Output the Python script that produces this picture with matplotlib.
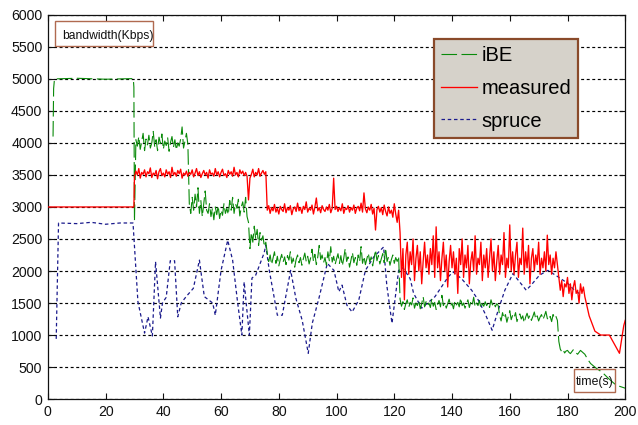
import numpy as np
import matplotlib
matplotlib.use("Agg")
import matplotlib.pyplot as plt
from matplotlib.patches import Rectangle

plt.rcParams['font.family'] = ['Liberation Sans', 'DejaVu Sans']

# ---------------- data (time in s, bandwidth in Kbps) ----------------
SAMPLE_STEP = 0.5

# iBE estimate
ibe_head_t = [1.8, 2.0, 2.3, 10.0, 20.0, 29.6, 29.8, 30.0]
ibe_head_v = [4100, 4850, 5000, 5010, 4995, 5005, 4870, 2780]

ibe_seg1_start = 30.5
ibe_seg1 = [4050, 3950, 4100, 3900, 4020, 4150, 3880, 4060, 3970, 4120,
            3920, 4000, 4180, 3940, 4050, 3880, 4090, 3990, 4140, 3900,
            4030, 3960, 4080, 3870, 4010, 4100, 3930, 4050, 3890, 4000,
            3950, 4060, 4250, 3920, 4030, 4150, 3980]
ibe_seg2_start = 49.0
ibe_seg2 = [3050, 2900, 3150, 2950, 3200, 3000, 3300, 2900, 3100, 2850,
            3050, 3250, 2950, 2900, 3050, 2850, 2980, 2800, 3000, 2880,
            3020, 2820, 2950, 2870, 3050, 2900, 2980, 2880, 3100, 2950,
            3150, 2900, 3050, 2980, 3120, 2860, 3000, 3080, 2920, 3150,
            2850, 2760]
ibe_seg3_start = 70.0
ibe_seg3 = [2350, 2600, 2450, 2700, 2500, 2650, 2400, 2600, 2480, 2550,
            2380, 2450]
ibe_seg4_start = 76.0
ibe_seg4 = [2280, 2150, 2250, 2100, 2200, 2300, 2120, 2230, 2080, 2180,
            2260, 2140, 2220, 2100, 2240, 2170, 2300, 2120, 2200, 2060,
            2180, 2250, 2130, 2210, 2090, 2190, 2280, 2150, 2230, 2110,
            2200, 2340, 2150, 2260, 2100, 2220, 2400, 2180, 2250, 2130,
            2210, 2090, 2300, 2160, 2380, 2140, 2230, 2100, 2190, 2270,
            2120, 2240, 2080, 2200, 2350, 2150, 2220, 2060, 2170, 2290,
            2130, 2210, 2090, 2250, 2150, 2380, 2120, 2230, 2100, 2190,
            2280, 2140, 2220, 2080, 2200, 2330, 2160, 2240, 2110, 2190,
            2270, 2130, 2360, 2150, 2220, 2090, 2180, 2250, 2120, 2210,
            2150, 2230]
ibe_seg5_start = 122.0
ibe_seg5 = [1560, 1450, 1520, 1400, 1490, 1550, 1430, 1510, 1470, 1580,
            1420, 1500, 1460, 1540, 1410, 1490, 1600, 1440, 1520, 1460,
            1500, 1430, 1570, 1450, 1510, 1400, 1480, 1540, 1440, 1620,
            1460, 1510, 1420, 1490, 1560, 1450, 1500, 1410, 1530, 1470,
            1510, 1440, 1580, 1460, 1500, 1420, 1490, 1550, 1430, 1520,
            1470, 1590, 1440, 1500, 1460, 1540, 1420, 1490, 1450, 1520,
            1460, 1500, 1430, 1550, 1470, 1510, 1440, 1490, 1460]
ibe_seg6_start = 156.5
ibe_seg6 = [1300, 1220, 1350, 1260, 1320, 1200, 1290, 1380, 1240, 1310,
            1270, 1350, 1210, 1290, 1330, 1250, 1300, 1190, 1280, 1340,
            1260, 1310, 1230, 1290, 1360, 1250, 1300, 1220, 1280, 1320,
            1240, 1300, 1370, 1260, 1230, 1290, 1210, 1320, 1260, 1290,
            1230]
ibe_seg7_start = 177.0
ibe_seg7 = [900, 780, 740, 770, 720, 750, 760, 730, 710, 740,
            770, 760, 720, 700, 730, 760, 740, 720, 700]
ibe_tail_t = [187.0, 188.0, 190.0, 192.0, 194.0, 196.0, 197.0, 198.0, 200.0]
ibe_tail_v = [620, 555, 480, 420, 330, 250, 215, 200, 170]

# measured bandwidth
meas_head_t = [0.0, 29.8]
meas_head_v = [3000, 3000]

meas_seg1_start = 30.0
meas_seg1 = [3480, 3560, 3500, 3600, 3450, 3540, 3510, 3580, 3470, 3550,
             3520, 3610, 3460, 3530, 3500, 3570, 3440, 3550, 3600, 3490,
             3530, 3470, 3580, 3510, 3550, 3460, 3620, 3500, 3540, 3480,
             3570, 3520, 3590, 3450, 3530, 3500, 3560, 3480, 3540, 3510,
             3580, 3470, 3530, 3600, 3490, 3550, 3460, 3520, 3570, 3500,
             3540, 3450, 3580, 3510, 3530, 3480, 3600, 3500, 3550, 3470,
             3540, 3590, 3490, 3520, 3460, 3570, 3510, 3550, 3480, 3620,
             3500, 3540, 3470, 3580, 3520, 3560, 3490, 3540, 3480, 3110,
             3450, 3510, 3590, 3470, 3540, 3500, 3600, 3480, 3530, 3570,
             3510, 3550]
meas_seg2_start = 76.0
meas_seg2 = [2950, 3020, 2900, 2990, 2940, 3040, 2920, 2980, 2890, 3010,
             2960, 2930, 3050, 2910, 2990, 2950, 3020, 2880, 2970, 3000,
             2930, 3060, 2940, 2990, 2900, 3010, 2960, 3080, 2920, 2980,
             2950, 3030, 2890, 3000, 3140, 2940, 2990, 2910, 3020, 2960,
             2930, 3000, 2950, 3040, 2910, 2980, 3450, 2960, 3010, 2930,
             2990, 2940, 3050, 2900, 2980, 2960, 3020, 2920, 2990, 2950,
             3030, 2900, 2980, 3010, 2940, 3060, 2920, 3220, 2970, 2910,
             3000, 2950, 3040, 2890, 2980, 2640, 2960, 3010, 2920, 2990,
             2880, 3030, 2930, 2860, 3000, 2900, 2950, 2840, 3050, 2890,
             2760, 2950]
meas_seg3_start = 122.0
meas_seg3 = [2600, 1900, 2350, 1550, 2250, 2450, 1950, 2300, 2100, 2500,
             1850, 2200, 2400, 2000, 2300, 1800, 2150, 2450, 2050, 2250,
             1950, 2350, 2100, 2550, 1900, 2690, 2050, 2300, 1850, 2200,
             2450, 2000, 2250, 1750, 2150, 2400, 2050, 2300, 1950, 2200,
             1650, 2350, 2100, 2500, 1900, 2250, 2050, 2400, 1800, 2150,
             2300, 2000, 2550, 1950, 2200, 2100, 2450, 1850, 2250, 2050,
             2350, 1900, 2200, 2500, 2000, 2300, 1850, 2150, 2400, 1950,
             2250, 2100, 2600, 1900, 2200, 2050, 2720, 2000, 2300, 1950,
             2250, 2450, 1900, 2200, 2100, 2670, 1950, 2300, 2050, 2400,
             1800, 2200, 2350, 2000, 2250, 2100, 2450, 1950, 2200, 2050,
             2300, 2000, 2560, 2100, 2250, 1950, 2200, 2050, 2300, 2100]
meas_seg4_start = 177.0
meas_seg4 = [1900, 1700, 1850, 1600, 1800, 1750, 1900, 1650, 1800, 1550,
             1750, 1850, 1650, 1700, 1500, 1800, 1650, 1750, 1600]
meas_tail_t = [187.5, 189.5, 191.5, 194.5, 198.0, 199.5, 200.0]
meas_tail_v = [1300, 1060, 1000, 1000, 715, 1150, 1230]

# spruce estimate
spruce_t = [2.9, 3.7, 10, 15, 20, 25, 29.5, 31.2, 33.5, 34.7, 36.2, 37.3,
            39.0, 39.7, 41.0, 42.4, 43.9, 45.0, 46.2, 47.9, 50.4, 52.5, 53.1,
            54.2, 57.1, 58.0, 60.0, 62.3, 64.0, 65.7, 67.2, 68.0, 68.6, 69.8,
            70.7, 72.0, 74.9, 75.5, 76.7, 79.5, 81.2, 84.1, 85.9, 88.1, 90.2,
            91.6, 93.9, 96.8, 99.1, 100.8, 101.9, 103.6, 105.4, 107.7, 110.0,
            112.9, 116.3, 117.4, 119.2, 120.1, 121.5, 123.0, 125.5, 126.7,
            129.5, 134.1, 138.7, 140.4, 143.3, 146.8, 149.1, 151.4, 153.9,
            156.0, 158.3, 161.1, 163.4, 165.7, 167.4, 170.3, 173.2, 176.7,
            180.0, 182.4, 184.0]
spruce_v = [940, 2750, 2740, 2760, 2730, 2750, 2750, 1520, 1030, 1285, 985,
            2145, 1265, 1500, 1590, 2160, 2160, 1285, 1500, 1600, 1730, 2170,
            1965, 1600, 1500, 1310, 2010, 2480, 2170, 1520, 1000, 1830, 1545,
            1000, 1890, 1935, 2280, 2400, 2010, 1310, 1310, 2010, 1575, 1230,
            715, 1185, 1575, 2120, 2010, 1675, 1780, 1465, 1360, 1545, 2010,
            2220, 2375, 1780, 1185, 1500, 2010, 2050, 1880, 1650, 1420, 1600,
            1910, 1985, 1880, 1700, 1545, 1340, 1075, 1390, 1700, 1960, 1830,
            1700, 1780, 1935, 2010, 1910, 1810, 1700, 1650]

x_ticks = list(range(0, 201, 20))
y_ticks = list(range(0, 6001, 500))


def build_series(head_t, head_v, segments, tail_t, tail_v):
    ts, vs = [np.asarray(head_t, float)], [np.asarray(head_v, float)]
    for start, vals in segments:
        ts.append(start + SAMPLE_STEP * np.arange(len(vals)))
        vs.append(np.asarray(vals, float))
    ts.append(np.asarray(tail_t, float))
    vs.append(np.asarray(tail_v, float))
    return np.concatenate(ts), np.concatenate(vs)


ibe_t, ibe_v = build_series(
    ibe_head_t, ibe_head_v,
    [(ibe_seg1_start, ibe_seg1), (ibe_seg2_start, ibe_seg2),
     (ibe_seg3_start, ibe_seg3), (ibe_seg4_start, ibe_seg4),
     (ibe_seg5_start, ibe_seg5), (ibe_seg6_start, ibe_seg6),
     (ibe_seg7_start, ibe_seg7)],
    ibe_tail_t, ibe_tail_v)

meas_t, meas_v = build_series(
    meas_head_t, meas_head_v,
    [(meas_seg1_start, meas_seg1), (meas_seg2_start, meas_seg2),
     (meas_seg3_start, meas_seg3), (meas_seg4_start, meas_seg4)],
    meas_tail_t, meas_tail_v)

# ---------------- figure ----------------
fig = plt.figure(figsize=(6.38, 4.25), dpi=100)
ax = fig.add_axes([0.075, 0.061, 0.905, 0.904])

GREEN = '#0a8a0a'
RED = '#ff0000'
NAVY = '#1a1a8c'

l_sp, = ax.plot(spruce_t, spruce_v, color=NAVY, lw=0.9,
                linestyle=(0, (2.8, 2.2)), label='spruce', zorder=3)
l_ibe, = ax.plot(ibe_t, ibe_v, color=GREEN, lw=0.8,
                 linestyle=(0, (14, 4)), label='iBE', zorder=4)
l_me, = ax.plot(meas_t, meas_v, color=RED, lw=0.95, label='measured', zorder=5)

ax.set_xlim(0, 200)
ax.set_ylim(0, 6000)
ax.set_xticks(x_ticks)
ax.set_yticks(y_ticks)
ax.tick_params(direction='in', length=4, width=0.8, top=True, right=True,
               labelsize=10.2, pad=4, colors='#111111')
for sp in ax.spines.values():
    sp.set_linewidth(0.9)
    sp.set_color('#111111')

ax.yaxis.grid(True, color='black', linewidth=0.85, linestyle=(0, (2.5, 2.2)))
ax.xaxis.grid(False)
ax.set_axisbelow(True)

leg = ax.legend(handles=[l_ibe, l_me, l_sp], loc='upper left',
                bbox_to_anchor=(0.669, 0.937), borderaxespad=0,
                fontsize=14.5, fancybox=False, framealpha=1,
                facecolor='#d6d2ca', edgecolor='#8a4a2a',
                handlelength=1.8, handletextpad=0.2, labelspacing=0.68,
                borderpad=0.35)
leg.get_frame().set_linewidth(1.6)
leg.set_zorder(10)

# axis-name boxes
box_color = '#b06a50'
ax.add_patch(Rectangle((0.0126, 0.920), 0.170, 0.065, transform=ax.transAxes,
                       facecolor='white', edgecolor=box_color, lw=1.0, zorder=9))
ax.text(0.024, 0.944, 'bandwidth(Kbps)', transform=ax.transAxes,
        fontsize=8.7, ha='left', va='center', color='#111111', zorder=10)

ax.add_patch(Rectangle((0.911, 0.018), 0.071, 0.059, transform=ax.transAxes,
                       facecolor='none', edgecolor=box_color, lw=1.0, zorder=9))
ax.text(0.9466, 0.0456, 'time(s)', transform=ax.transAxes,
        fontsize=8.8, ha='center', va='center', color='#111111', zorder=10)

fig.savefig('out.png', dpi=100)
